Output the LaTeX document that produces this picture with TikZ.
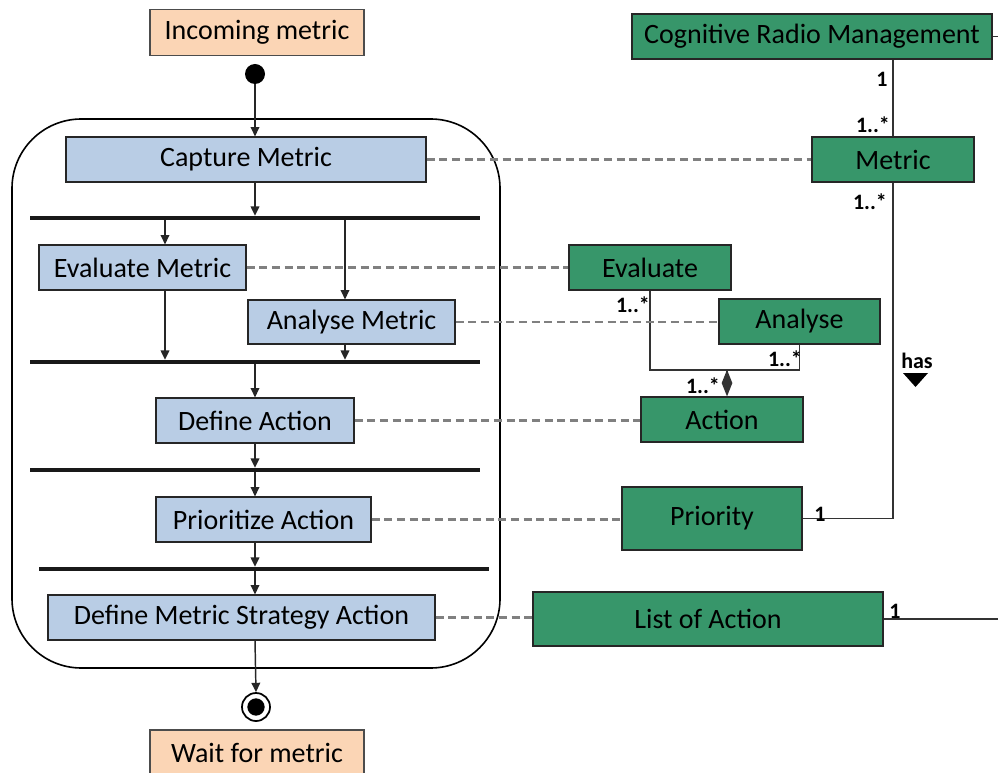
\documentclass[tikz,border=0pt]{standalone}
\usepackage{fontspec}
\setmainfont{Carlito}
\usetikzlibrary{arrows.meta}
\definecolor{actblue}{HTML}{B9CDE5}
\definecolor{clsgreen}{HTML}{37966A}
\definecolor{extpeach}{HTML}{FBD5B5}
\begin{document}
\begin{tikzpicture}
        [x=0.75pt,y=-0.75pt,
        every node/.style={font=\fontsize{21}{25}\selectfont,inner sep=0pt},
        act/.style={draw=black!85,fill=actblue,line width=0.9pt},
        cls/.style={draw=black!85,fill=clsgreen,line width=0.9pt},
        ext/.style={draw=black!70,fill=extpeach,line width=0.9pt},
        bar/.style={fill=black!90,minimum width=337.5pt,minimum height=3pt},
        mult/.style={font=\fontsize{16.5}{19}\selectfont\bfseries},
        flow/.style={-{Triangle[length=7pt,width=6.5pt]},line width=1.1pt,draw=black!85},
        trace/.style={dash pattern=on 6pt off 3.5pt,line width=1.6pt,draw=black!50},
        assoc/.style={line width=1.2pt,draw=black!80}]
        \useasboundingbox (0,0) rectangle (998,773);
        % activity side
        \node[ext,minimum width=160.5pt,minimum height=35pt] (inc) at (257,32.5) {Incoming metric};
        \node[circle,fill=black,minimum size=15pt] (start) at (255,74) {};
        \draw[line width=1.2pt,rounded corners=52pt] (12,119) rectangle (500,668);
        \node[act,minimum width=270pt,minimum height=33.75pt] (cap) at (246,159.5) {Capture Metric};
        \node[bar] (f1) at (255,218) {};
        \node[act,minimum width=155.25pt,minimum height=33.75pt] (evm) at (142.5,267.5) {Evaluate Metric};
        \node[act,minimum width=155.25pt,minimum height=33pt] (anm) at (351.5,322) {Analyse Metric};
        \node[bar] (f2) at (255,362) {};
        \node[act,minimum width=148.5pt,minimum height=33.75pt] (dfa) at (255,420.5) {Define Action};
        \node[bar] (f3) at (255,470) {};
        \node[act,minimum width=161.25pt,minimum height=33.75pt] (pra) at (263.5,519.5) {Prioritize Action};
        \node[bar] (f4) at (264,569) {};
        \node[act,minimum width=290.25pt,minimum height=33.75pt] (dms) at (241.5,617.5) {Define Metric Strategy Action};
        \node[circle,draw,line width=1.3pt,minimum size=21pt] (fin) at (256,707) {};
        \node[circle,fill=black,minimum size=13pt] (finc) at (fin) {};
        \node[ext,minimum width=160.5pt,minimum height=34.5pt] (wait) at (257,753) {Wait for metric};
        \coordinate (xe) at (165,0);
        \coordinate (xa) at (345,0);
        \draw[flow] (start) -- (start |- cap.north);
        \draw[flow] (start |- cap.south) -- (start |- f1.north);
        \draw[flow] (f1.south -| xe) -- (evm.north -| xe);
        \draw[flow] (f1.south -| xa) -- (anm.north -| xa);
        \draw[flow] (evm.south -| xe) -- (f2.north -| xe);
        \draw[flow] (anm.south -| xa) -- (f2.north -| xa);
        \draw[flow] (f2.south -| dfa) -- (dfa.north);
        \draw[flow] (dfa.south) -- (dfa.south |- f3.north);
        \draw[flow] (f3.south -| dfa) -- (dfa |- pra.north);
        \draw[flow] (dfa |- pra.south) -- (dfa |- f4.north);
        \draw[flow] (f4.south -| dfa) -- (dfa |- dms.north);
        \draw[flow] (dfa |- dms.south) -- (fin.north);
        % class side
        \node[cls,minimum width=270pt,minimum height=33.75pt] (crm) at (812,36.5) {Cognitive Radio Management};
        \node[cls,minimum width=121.5pt,minimum height=33.75pt] (met) at (893,159.5) {Metric};
        \node[cls,minimum width=121.5pt,minimum height=33.75pt] (evl) at (650,267.5) {Evaluate};
        \node[cls,minimum width=120.75pt,minimum height=33.75pt] (ana) at (799.5,321.5) {Analyse};
        \node[cls,minimum width=121.5pt,minimum height=33.75pt] (act) at (722,419.5) {Action};
        \node[cls,minimum width=135pt,minimum height=47.25pt] (pri) at (712,518.5) {Priority};
        \node[cls,minimum width=262.5pt,minimum height=40.5pt] (loa) at (708,619) {List of Action};
        \coordinate (edge) at (1010,0);
        \coordinate (j) at (727,370);
        \draw[assoc] (met.north) -- (met.north |- crm.south);
        \draw[assoc] (met.south) |- (pri.east);
        \draw[assoc] (crm.east) -- (crm.east -| edge);
        \draw[assoc] (loa.east) -- (loa.east -| edge);
        \draw[assoc] (evl.south) -- (evl.south |- j) -- (ana.south |- j) -- (ana.south);
        \draw[assoc,-{Diamond[length=20pt,width=8pt]}] (j) -- (j |- act.north);
        \node[mult] (m1) at (882,79) {1};
        \node[mult] (m2) at (873,125) {1..*};
        \node[mult] (m3) at (870,202) {1..*};
        \node[mult] (m4) at (633,305) {1..*};
        \node[mult] (m5) at (785,359) {1..*};
        \node[mult] (m6) at (703,386) {1..*};
        \node[mult] (m7) at (820,514) {1};
        \node[mult] (m8) at (895,611) {1};
        \node[mult] (has) at (917,361) {has};
        \fill[black] (903,373) -- (928,373) -- (915.5,387) -- cycle;
        % traces between the two sides
        \draw[trace] (cap) -- (met);
        \draw[trace] (evm) -- (evl);
        \draw[trace] (anm.east) -- (anm.east -| ana.west);
        \draw[trace] (dfa.east) -- (dfa.east -| act.west);
        \draw[trace] (pra.east) -- (pra.east -| pri.west);
        \draw[trace] (dms.east) -- (dms.east -| loa.west);
\end{tikzpicture}
\end{document}
